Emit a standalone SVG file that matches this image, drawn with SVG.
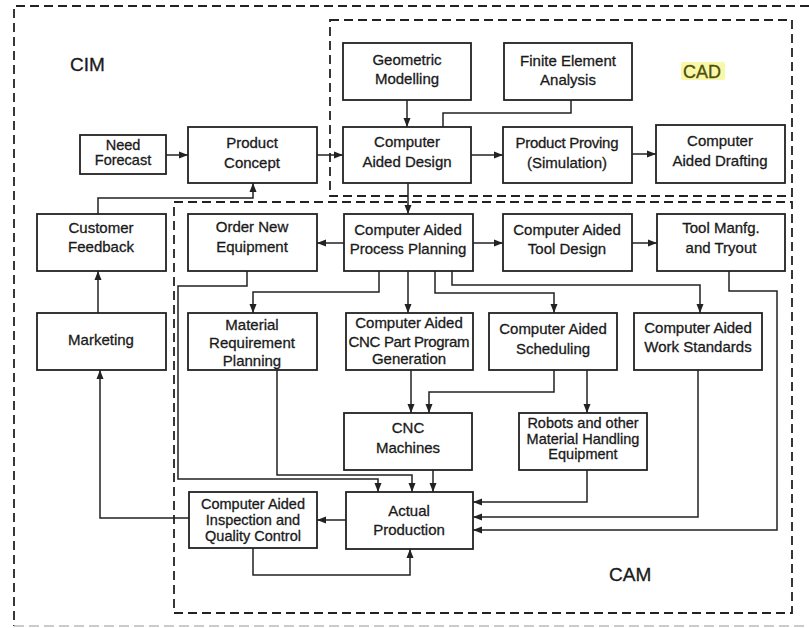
<svg xmlns="http://www.w3.org/2000/svg" width="809" height="628" viewBox="0 0 809 628">
<defs>
<style>
.bx{fill:#fff;stroke:#222;stroke-width:1.8}
.t{font-family:"Liberation Sans",Arial,Helvetica,sans-serif;font-size:15px;fill:#1a1a1a;stroke:#1a1a1a;stroke-width:0.3;text-anchor:middle}
.s{font-size:14.5px}
.lbl{font-family:"Liberation Sans",Arial,Helvetica,sans-serif;font-size:19px;fill:#1a1a1a;stroke:#1a1a1a;stroke-width:0.3}
.c{fill:none;stroke:#222;stroke-width:1.5}
.a{marker-end:url(#ah)}
.dash{fill:none;stroke:#222;stroke-width:1.8;stroke-dasharray:9 5}
</style>
<marker id="ah" markerUnits="userSpaceOnUse" markerWidth="10" markerHeight="10" viewBox="0 0 10 10" refX="9" refY="5" orient="auto">
<path d="M0,1.5 L9,5 L0,8.5 z" fill="#222"/>
</marker>
</defs>
<rect width="809" height="628" fill="#fff"/>
<g id="boundaries">
<path class="dash" d="M809,6 H14 V626" stroke-width="1.6" stroke-dasharray="10 5"/>
<path d="M14,626 H809" fill="none" stroke="#bbb" stroke-width="1.4" stroke-dasharray="10 5"/>
<rect class="dash" x="330" y="20" width="462" height="176"/>
<rect class="dash" x="174" y="202" width="618" height="411"/>
</g>
<g id="labels">
<text class="lbl" x="70" y="71">CIM</text>
<rect x="681" y="62" width="44" height="18" rx="2" fill="#f6f68a" opacity="0.75"/>
<text class="lbl" x="683" y="78" style="font-size:18px;fill:#4f4f10;stroke:#4f4f10">CAD</text>
<text class="lbl" x="609" y="581">CAM</text>
</g>
<g id="connectors">
<path class="c a" d="M166,155 H188"/>
<path class="c a" d="M317,155 H343"/>
<path class="c a" d="M407,100 V127"/>
<path class="c" d="M571,100 V113 H443 V127"/>
<path class="c a" d="M471,155 H503"/>
<path class="c a" d="M632,154 H656"/>
<path class="c a" d="M408,183 V214"/>
<path class="c a" d="M344,243 H317"/>
<path class="c a" d="M473,243 H503"/>
<path class="c a" d="M632,243 H657"/>
<path class="c a" d="M98,214 V198 H253 V183"/>
<path class="c a" d="M98,313 V271"/>
<path class="c a" d="M379,271 V292 H253 V313"/>
<path class="c a" d="M408,271 V313"/>
<path class="c a" d="M435,271 V293 H554 V313"/>
<path class="c a" d="M452,271 V285 H700 V313"/>
<path class="c a" d="M247,271 V286 H178 V479 H378 V492"/>
<path class="c a" d="M277,370 V475 H412 V492"/>
<path class="c a" d="M411,370 V413"/>
<path class="c a" d="M554,370 V392 H429 V413"/>
<path class="c a" d="M587,370 V413"/>
<path class="c a" d="M433,470 V492"/>
<path class="c a" d="M587,470 V502 H473"/>
<path class="c a" d="M698,370 V517 H473"/>
<path class="c a" d="M729,271 V291 H777 V530 H473"/>
<path class="c a" d="M346,520 H317"/>
<path class="c a" d="M253,548 V575 H410 V549"/>
<path class="c a" d="M189,518 H100 V370"/>
</g>
<g id="geometric-modelling"><rect class="bx" x="343" y="43" width="128" height="57"/><text class="t" x="407" y="65">Geometric</text><text class="t" x="407" y="84">Modelling</text></g>
<g id="finite-element"><rect class="bx" x="504" y="43" width="128" height="57"/><text class="t" x="568" y="66">Finite Element</text><text class="t" x="568" y="85">Analysis</text></g>
<g id="need-forecast"><rect class="bx" x="80" y="135" width="86" height="39"/><text class="t s" x="123" y="150">Need</text><text class="t s" x="123" y="165">Forecast</text></g>
<g id="product-concept"><rect class="bx" x="188" y="127" width="129" height="56"/><text class="t" x="252" y="148">Product</text><text class="t" x="252" y="168">Concept</text></g>
<g id="cad-design"><rect class="bx" x="343" y="127" width="128" height="56"/><text class="t" x="407" y="147">Computer</text><text class="t" x="407" y="167">Aided Design</text></g>
<g id="product-proving"><rect class="bx" x="503" y="127" width="129" height="56"/><text class="t" x="567" y="148" textLength="103">Product Proving</text><text class="t" x="567" y="168">(Simulation)</text></g>
<g id="drafting"><rect class="bx" x="656" y="125" width="129" height="58"/><text class="t" x="720" y="146">Computer</text><text class="t" x="720" y="166">Aided Drafting</text></g>
<g id="customer-feedback"><rect class="bx" x="37" y="214" width="129" height="57"/><text class="t" x="101" y="233">Customer</text><text class="t" x="101" y="252">Feedback</text></g>
<g id="order-new-equipment"><rect class="bx" x="188" y="214" width="129" height="57"/><text class="t" x="252" y="232">Order New</text><text class="t" x="252" y="252">Equipment</text></g>
<g id="process-planning"><rect class="bx" x="344" y="214" width="129" height="57"/><text class="t" x="408" y="235">Computer Aided</text><text class="t" x="408" y="254">Process Planning</text></g>
<g id="tool-design"><rect class="bx" x="503" y="214" width="129" height="57"/><text class="t" x="567" y="235">Computer Aided</text><text class="t" x="567" y="254">Tool Design</text></g>
<g id="tool-manfg"><rect class="bx" x="657" y="214" width="128" height="57"/><text class="t" x="721" y="233">Tool Manfg.</text><text class="t" x="721" y="253">and Tryout</text></g>
<g id="marketing"><rect class="bx" x="37" y="313" width="129" height="57"/><text class="t" x="101" y="345">Marketing</text></g>
<g id="mrp"><rect class="bx" x="188" y="313" width="129" height="57"/><text class="t" x="252" y="330">Material</text><text class="t" x="252" y="348">Requirement</text><text class="t" x="252" y="366">Planning</text></g>
<g id="cnc-program"><rect class="bx" x="346" y="313" width="127" height="57"/><text class="t" x="409" y="328">Computer Aided</text><text class="t" x="409" y="347" textLength="121">CNC Part Program</text><text class="t" x="409" y="364">Generation</text></g>
<g id="scheduling"><rect class="bx" x="489" y="313" width="128" height="57"/><text class="t" x="553" y="334">Computer Aided</text><text class="t" x="553" y="354">Scheduling</text></g>
<g id="work-standards"><rect class="bx" x="634" y="313" width="128" height="57"/><text class="t" x="698" y="333">Computer Aided</text><text class="t" x="698" y="352">Work Standards</text></g>
<g id="cnc-machines"><rect class="bx" x="344" y="413" width="128" height="57"/><text class="t" x="408" y="433">CNC</text><text class="t" x="408" y="453">Machines</text></g>
<g id="robots"><rect class="bx" x="519" y="413" width="128" height="57"/><text class="t s" x="583" y="428">Robots and other</text><text class="t s" x="583" y="444">Material Handling</text><text class="t s" x="583" y="459">Equipment</text></g>
<g id="caiqc"><rect class="bx" x="189" y="492" width="128" height="56"/><text class="t s" x="253" y="509">Computer Aided</text><text class="t s" x="253" y="525">Inspection and</text><text class="t s" x="253" y="541">Quality Control</text></g>
<g id="actual-production"><rect class="bx" x="346" y="492" width="127" height="57"/><text class="t" x="409" y="516">Actual</text><text class="t" x="409" y="535">Production</text></g>
</svg>
